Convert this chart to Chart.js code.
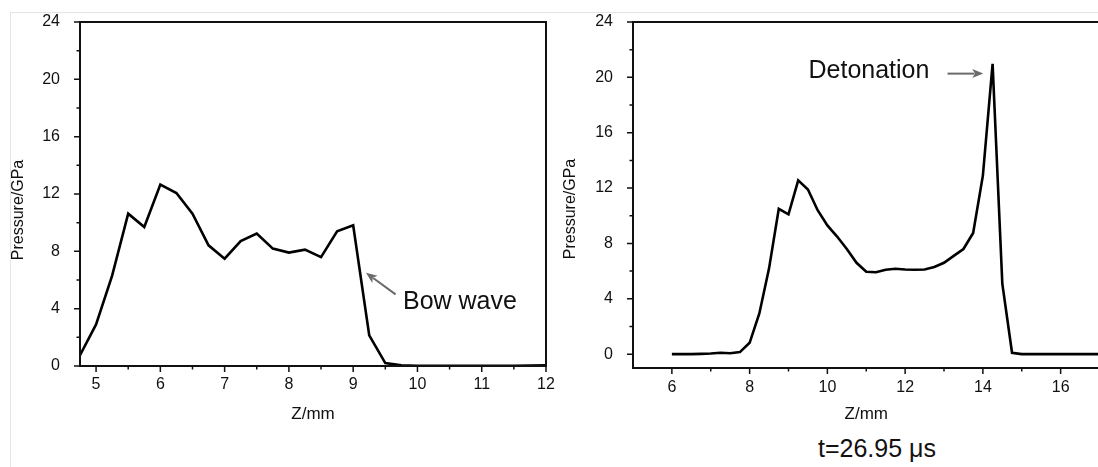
<!DOCTYPE html>
<html>
<head>
<meta charset="utf-8">
<script src="https://cdn.jsdelivr.net/npm/chart.js@4.4.1/dist/chart.umd.min.js"></script>
<style>
html,body{margin:0;padding:0;background:#fff;overflow:hidden;width:1098px;height:467px;position:relative;}
#frame{position:absolute;left:10px;top:12px;width:1200px;height:500px;border-left:1px solid #e4e4e4;border-top:1px solid #e4e4e4;}
#w1{position:absolute;left:0;top:0;width:560px;height:430px;}
#w2{position:absolute;left:560px;top:0;width:545px;height:430px;}
#caption{position:absolute;left:777px;width:200px;top:434px;text-align:center;font:25px "Liberation Sans",Arial,sans-serif;color:#111;line-height:29px;}
</style>
</head>
<body>
<div id="frame"></div>
<div id="w1"><canvas id="c1" width="560" height="430"></canvas></div>
<div id="w2"><canvas id="c2" width="545" height="430"></canvas></div>
<div id="caption">t=26.95 μs</div>
<script>
// ---------- data: left panel (bow wave) ----------
const zLeft = [4.75,5.0,5.25,5.5,5.75,6.0,6.25,6.5,6.75,7.0,7.25,7.5,7.75,8.0,8.25,8.5,8.75,9.0,9.25,9.5,9.75,10.0,10.25,10.5,10.75,11.0,11.25,11.5,11.75,12.0];
const pLeft = [0.75,2.9,6.3,10.63,9.7,12.66,12.07,10.63,8.42,7.49,8.72,9.24,8.19,7.91,8.12,7.6,9.4,9.82,2.14,0.2,0.05,0.02,0.02,0.02,0.02,0.02,0.02,0.02,0.03,0.05];
const xTicksLeft = [5,6,7,8,9,10,11,12];
const xMinorLeft = [5.5,6.5,7.5,8.5,9.5,10.5,11.5];

// ---------- data: right panel (detonation) ----------
const zRight = [6.0,6.25,6.5,6.75,7.0,7.25,7.5,7.75,8.0,8.25,8.5,8.75,9.0,9.25,9.5,9.75,10.0,10.25,10.5,10.75,11.0,11.25,11.5,11.75,12.0,12.25,12.5,12.75,13.0,13.25,13.5,13.75,14.0,14.25,14.5,14.75,15.0,15.25,15.5,15.75,16.0,16.25,16.5,16.75,17.0];
const pRight = [0.0,0.0,0.0,0.02,0.05,0.1,0.07,0.15,0.82,2.94,6.2,10.5,10.1,12.56,11.9,10.4,9.3,8.5,7.6,6.6,5.95,5.92,6.1,6.17,6.12,6.1,6.12,6.3,6.6,7.1,7.6,8.76,12.9,20.98,5.1,0.1,0.0,0.0,0.0,0.0,0.0,0.0,0.0,0.0,0.0];
const xTicksRight = [6,8,10,12,14,16];
const xMinorRight = [7,9,11,13,15];

// ---------- shared y ticks ----------
const yTicks = [0,4,8,12,16,20,24];
const yMinor = [2,6,10,14,18,22];

const FONT = '"Liberation Sans", Arial, Helvetica, sans-serif';
const INK = '#111';

const decor = {
  id: 'decor',
  afterDraw(chart, args, o) {
    const {ctx, chartArea: a, scales: {x, y}} = chart;
    ctx.save();
    ctx.strokeStyle = INK;
    ctx.lineWidth = 2;
    ctx.strokeRect(a.left, a.top, a.right - a.left, a.bottom - a.top);
    ctx.lineWidth = 1.5;
    ctx.beginPath();
    o.xMajor.forEach(v => { const p = x.getPixelForValue(v); ctx.moveTo(p, a.bottom); ctx.lineTo(p, a.bottom + 6); });
    o.xMinor.forEach(v => { const p = x.getPixelForValue(v); ctx.moveTo(p, a.bottom); ctx.lineTo(p, a.bottom + 3.5); });
    o.yMajor.forEach(v => { const p = y.getPixelForValue(v); ctx.moveTo(a.left, p); ctx.lineTo(a.left - 6, p); });
    o.yMinor.forEach(v => { const p = y.getPixelForValue(v); ctx.moveTo(a.left, p); ctx.lineTo(a.left - 3.5, p); });
    ctx.stroke();
    ctx.fillStyle = INK;
    ctx.font = '16px ' + FONT;
    ctx.textAlign = 'center';
    ctx.textBaseline = 'middle';
    ctx.translate(o.yTitleX, (a.top + a.bottom) / 2 + o.yTitleShift);
    ctx.rotate(-Math.PI / 2);
    ctx.fillText(o.yTitle, 0, 0);
    ctx.restore();
    const an = o.note;
    ctx.save();
    ctx.fillStyle = '#111';
    ctx.font = '25px ' + FONT;
    ctx.textAlign = 'left';
    ctx.textBaseline = 'middle';
    ctx.fillText(an.text, x.getPixelForValue(an.tx), y.getPixelForValue(an.ty));
    const x0 = x.getPixelForValue(an.ax0), y0 = y.getPixelForValue(an.ay0);
    const x1 = x.getPixelForValue(an.ax1), y1 = y.getPixelForValue(an.ay1);
    const ang = Math.atan2(y1 - y0, x1 - x0);
    const hl = 11, hw = 4.5;
    ctx.strokeStyle = '#6a6a6a';
    ctx.fillStyle = '#6a6a6a';
    ctx.lineWidth = 2;
    ctx.beginPath();
    ctx.moveTo(x0, y0);
    ctx.lineTo(x1 - Math.cos(ang) * hl * 0.8, y1 - Math.sin(ang) * hl * 0.8);
    ctx.stroke();
    ctx.beginPath();
    ctx.moveTo(x1, y1);
    ctx.lineTo(x1 - Math.cos(ang) * hl - Math.sin(ang) * hw, y1 - Math.sin(ang) * hl + Math.cos(ang) * hw);
    ctx.lineTo(x1 - Math.cos(ang) * hl * 0.75, y1 - Math.sin(ang) * hl * 0.75);
    ctx.lineTo(x1 - Math.cos(ang) * hl + Math.sin(ang) * hw, y1 - Math.sin(ang) * hl - Math.cos(ang) * hw);
    ctx.closePath();
    ctx.fill();
    ctx.restore();
  }
};

function makeChart(id, xs, ys, cfg) {
  return new Chart(document.getElementById(id), {
    type: 'line',
    data: {
      datasets: [{
        data: xs.map((v, i) => ({x: v, y: ys[i]})),
        borderColor: '#000',
        borderWidth: 2.6,
        pointRadius: 0,
        tension: 0,
        fill: false
      }]
    },
    options: {
      responsive: false,
      animation: false,
      events: [],
      layout: {padding: cfg.padding},
      plugins: {
        legend: {display: false},
        tooltip: {enabled: false},
        decor: {
          xMajor: cfg.xTicks, xMinor: cfg.xMinor, yMajor: yTicks, yMinor: yMinor,
          yTitle: 'Pressure/GPa', yTitleX: cfg.yTitleX, yTitleShift: cfg.yTitleShift,
          note: cfg.note
        }
      },
      scales: {
        x: {
          type: 'linear',
          min: cfg.xMin, max: cfg.xMax,
          grid: {display: false},
          border: {display: false},
          afterBuildTicks: s => { s.ticks = cfg.xTicks.map(v => ({value: v})); },
          afterFit: s => { s.height = cfg.xHeight; },
          ticks: {padding: cfg.xPad, color: INK, font: {family: FONT, size: 16}, maxRotation: 0, autoSkip: false},
          title: {display: true, text: 'Z/mm', color: INK, font: {family: FONT, size: 17}, padding: {top: 0, bottom: 5}}
        },
        y: {
          type: 'linear',
          min: cfg.yMin, max: 24,
          grid: {display: false},
          border: {display: false},
          afterBuildTicks: s => { s.ticks = yTicks.map(v => ({value: v})); },
          afterFit: s => { s.width = cfg.yWidth; },
          ticks: {padding: 12, color: INK, font: {family: FONT, size: 16}}
        }
      }
    },
    plugins: [decor]
  });
}

makeChart('c1', zLeft, pLeft, {
  xMin: 4.75, xMax: 12, yMin: 0,
  xTicks: xTicksLeft, xMinor: xMinorLeft,
  padding: {left: 0, top: 22, right: 14, bottom: 0},
  xHeight: 64, yWidth: 80, xPad: 1,
  yTitleX: 19, yTitleShift: 16,
  note: {text: 'Bow wave', tx: 9.775, ty: 4.44, ax0: 9.66, ay0: 5.0, ax1: 9.2, ay1: 6.5}
});

makeChart('c2', zRight, pRight, {
  xMin: 5, xMax: 17, yMin: -1,
  xTicks: xTicksRight, xMinor: xMinorRight,
  padding: {left: 0, top: 22, right: 5.5, bottom: 0},
  xHeight: 62, yWidth: 73, xPad: 2,
  yTitleX: 11, yTitleShift: 14,
  note: {text: 'Detonation', tx: 9.514, ty: 20.46, ax0: 13.09, ay0: 20.27, ax1: 14.01, ay1: 20.27}
});
</script>
</body>
</html>
